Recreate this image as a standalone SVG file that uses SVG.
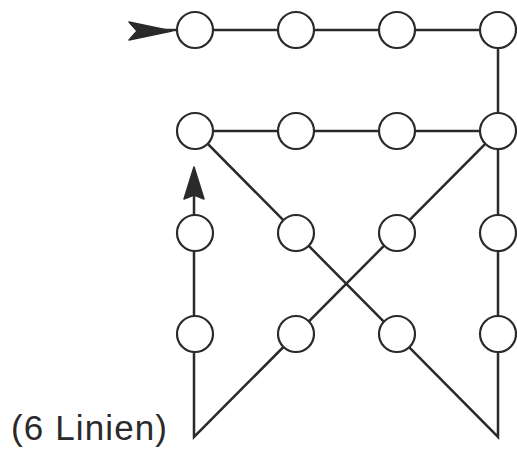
<svg xmlns="http://www.w3.org/2000/svg" width="517" height="450" viewBox="0 0 517 450">
<style>
.ln{fill:none;stroke:#2a2a2a;stroke-width:2.5;stroke-linejoin:miter}
.nd{fill:#fff;stroke:#2a2a2a;stroke-width:2.2}
.ah{fill:#2a2a2a;stroke:#2a2a2a;stroke-width:1.5;stroke-linejoin:round}
.lbl{font-family:"Liberation Sans",Arial,sans-serif;font-size:35px;fill:#2a2a2a}
</style>
<rect width="517" height="450" fill="#fff"/>
<g id="connectors">
<polyline class="ln" points="150,30 498,30 498,131 195,131 498,437 498,131 194,437 194,180"/>
<polygon class="ah" points="172,31 129,22 137,31 129,40"/>
<polygon class="ah" points="194,167 184,199 194,195 204,199"/>
</g>
<g id="n11"><circle class="nd" cx="195" cy="30" r="18"/></g>
<g id="n12"><circle class="nd" cx="296" cy="30" r="18"/></g>
<g id="n13"><circle class="nd" cx="397" cy="30" r="18"/></g>
<g id="n14"><circle class="nd" cx="498" cy="30" r="18"/></g>
<g id="n21"><circle class="nd" cx="195" cy="131" r="18"/></g>
<g id="n22"><circle class="nd" cx="296" cy="131" r="18"/></g>
<g id="n23"><circle class="nd" cx="397" cy="131" r="18"/></g>
<g id="n24"><circle class="nd" cx="498" cy="131" r="18"/></g>
<g id="n31"><circle class="nd" cx="195" cy="233" r="18"/></g>
<g id="n32"><circle class="nd" cx="296" cy="233" r="18"/></g>
<g id="n33"><circle class="nd" cx="397" cy="233" r="18"/></g>
<g id="n34"><circle class="nd" cx="498" cy="233" r="18"/></g>
<g id="n41"><circle class="nd" cx="195" cy="334" r="18"/></g>
<g id="n42"><circle class="nd" cx="296" cy="334" r="18"/></g>
<g id="n43"><circle class="nd" cx="397" cy="334" r="18"/></g>
<g id="n44"><circle class="nd" cx="498" cy="334" r="18"/></g>
<text class="lbl" x="11" y="440" textLength="156" lengthAdjust="spacing">(6 Linien)</text>
</svg>
